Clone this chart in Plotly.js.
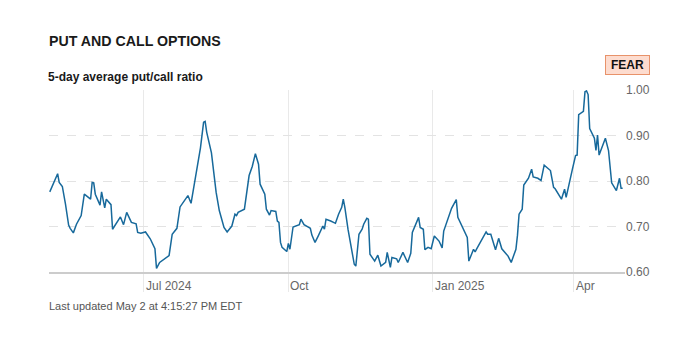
<!DOCTYPE html>
<html>
<head>
<meta charset="utf-8">
<script src="https://cdn.plot.ly/plotly-3.0.1.min.js"></script>
<style>
  html, body { margin: 0; padding: 0; background: #ffffff; }
  #chart { width: 685px; height: 344px; }
</style>
</head>
<body>
<div id="chart"></div>
<script>
// 5-day average put/call ratio
var dates = [
  "2024-05-02","2024-05-07","2024-05-08","2024-05-10","2024-05-12","2024-05-14","2024-05-15","2024-05-17",
  "2024-05-19","2024-05-22","2024-05-24","2024-05-28","2024-05-29","2024-05-30","2024-05-31","2024-06-03",
  "2024-06-04","2024-06-06","2024-06-07","2024-06-10","2024-06-11","2024-06-13","2024-06-16","2024-06-18",
  "2024-06-20","2024-06-23","2024-06-26","2024-06-27","2024-06-29","2024-07-02","2024-07-05","2024-07-08",
  "2024-07-09","2024-07-11","2024-07-14","2024-07-17","2024-07-19","2024-07-22","2024-07-24","2024-07-27",
  "2024-07-29","2024-07-31","2024-08-03","2024-08-06","2024-08-08","2024-08-09","2024-08-10","2024-08-13",
  "2024-08-16","2024-08-18","2024-08-21","2024-08-23","2024-08-26","2024-08-28","2024-08-29","2024-08-30",
  "2024-09-03","2024-09-06","2024-09-08","2024-09-10","2024-09-12","2024-09-13","2024-09-16","2024-09-17",
  "2024-09-19","2024-09-20","2024-09-23","2024-09-24","2024-09-25","2024-09-26","2024-09-27","2024-09-30",
  "2024-10-01","2024-10-02","2024-10-04","2024-10-06","2024-10-08","2024-10-09","2024-10-11","2024-10-14",
  "2024-10-15","2024-10-16","2024-10-18","2024-10-20","2024-10-22","2024-10-23","2024-10-24","2024-10-25",
  "2024-10-28","2024-10-31","2024-11-02","2024-11-04","2024-11-05","2024-11-06","2024-11-08","2024-11-10",
  "2024-11-12","2024-11-13","2024-11-15","2024-11-17","2024-11-18","2024-11-20","2024-11-21","2024-11-22",
  "2024-11-25","2024-11-27","2024-11-29","2024-12-02","2024-12-03","2024-12-05","2024-12-06","2024-12-09",
  "2024-12-10","2024-12-13","2024-12-16","2024-12-18","2024-12-19","2024-12-23","2024-12-24","2024-12-26",
  "2024-12-27","2024-12-29","2024-12-31","2025-01-02","2025-01-05","2025-01-07","2025-01-08","2025-01-13",
  "2025-01-16","2025-01-17","2025-01-23","2025-01-24","2025-01-27","2025-01-28","2025-01-29","2025-02-04",
  "2025-02-05","2025-02-07","2025-02-10","2025-02-12","2025-02-14","2025-02-18","2025-02-20","2025-02-23",
  "2025-02-24","2025-02-25","2025-02-27","2025-02-28","2025-03-02","2025-03-03","2025-03-05","2025-03-06",
  "2025-03-09","2025-03-11","2025-03-13","2025-03-17","2025-03-19","2025-03-20","2025-03-24","2025-03-26",
  "2025-03-27","2025-03-29","2025-03-31","2025-04-02","2025-04-03","2025-04-04","2025-04-07","2025-04-08",
  "2025-04-09","2025-04-10","2025-04-11","2025-04-14","2025-04-15","2025-04-16","2025-04-17","2025-04-21",
  "2025-04-23","2025-04-25","2025-04-28","2025-04-30","2025-05-01","2025-05-02"
];
var ratio = [
  0.776,0.816,0.797,0.788,0.749,0.703,0.696,0.686,
  0.705,0.724,0.771,0.760,0.797,0.796,0.771,0.747,
  0.776,0.741,0.760,0.748,0.694,0.705,0.721,0.704,
  0.731,0.709,0.706,0.687,0.685,0.688,0.673,0.651,
  0.608,0.621,0.628,0.636,0.683,0.696,0.743,0.757,
  0.768,0.751,0.816,0.873,0.929,0.931,0.907,0.862,
  0.775,0.735,0.698,0.688,0.701,0.727,0.724,0.731,
  0.738,0.812,0.832,0.860,0.837,0.793,0.771,0.738,
  0.725,0.735,0.733,0.712,0.709,0.665,0.654,0.645,
  0.663,0.650,0.699,0.701,0.704,0.716,0.704,0.698,
  0.696,0.681,0.665,0.679,0.693,0.701,0.694,0.716,
  0.712,0.707,0.727,0.742,0.760,0.742,0.694,0.657,
  0.617,0.613,0.683,0.694,0.705,0.718,0.716,0.639,
  0.624,0.637,0.613,0.621,0.643,0.610,0.632,0.629,
  0.621,0.643,0.621,0.641,0.687,0.720,0.698,0.694,
  0.649,0.654,0.651,0.679,0.668,0.653,0.690,0.740,
  0.759,0.720,0.676,0.624,0.650,0.644,0.651,0.688,
  0.683,0.683,0.649,0.674,0.651,0.635,0.621,0.650,
  0.681,0.727,0.738,0.791,0.801,0.806,0.826,0.809,
  0.806,0.801,0.835,0.823,0.786,0.783,0.760,0.782,
  0.764,0.799,0.826,0.856,0.857,0.946,0.953,0.996,
  0.998,0.990,0.915,0.894,0.867,0.901,0.857,0.894,
  0.867,0.796,0.779,0.806,0.784,0.784
];
var yTicks = [0.6, 0.7, 0.8, 0.9, 1.0];
var xTicks = ["2024-07-01", "2024-10-01", "2025-01-01", "2025-04-01"];
var xTickLabels = ["Jul 2024", "Oct", "Jan 2025", "Apr"];
var chartTitle = "PUT AND CALL OPTIONS";
var chartSubtitle = "5-day average put/call ratio";
var sentiment = "FEAR";
var footer = "Last updated May 2 at 4:15:27 PM EDT";

var FONT = "Liberation Sans, Arial, Helvetica, sans-serif";

var trace = {
  type: "scatter",
  mode: "lines",
  x: dates,
  y: ratio,
  line: { color: "#17699b", width: 1.5 },
  hoverinfo: "x+y"
};

var annotations = [
  {
    xref: "paper", yref: "paper", x: -0.004, y: 1.269,
    xanchor: "left", yanchor: "middle", showarrow: false,
    text: "<b>" + chartTitle + "</b>",
    font: { family: FONT, size: 14.2, color: "#1a1a1a" }
  },
  {
    xref: "paper", yref: "paper", x: -0.005, y: 1.071,
    xanchor: "left", yanchor: "middle", showarrow: false,
    text: "<b>" + chartSubtitle + "</b>",
    font: { family: FONT, size: 12, color: "#1a1a1a" }
  },
  {
    xref: "paper", yref: "paper", x: 1.0043, y: 1.137,
    xanchor: "center", yanchor: "middle", showarrow: false,
    text: "<b>" + sentiment + "</b>",
    font: { family: FONT, size: 12, color: "#111111" },
    bgcolor: "#fddccf", bordercolor: "#e8926a", borderwidth: 1,
    borderpad: 0, width: 43, height: 18
  },
  {
    xref: "paper", yref: "paper", x: -0.003, y: -0.187,
    xanchor: "left", yanchor: "middle", showarrow: false,
    text: footer,
    font: { family: FONT, size: 11, color: "#555555" }
  }
];
// x tick labels sit to the right of each month tick line
xTicks.forEach(function (d, i) {
  annotations.push({
    xref: "x", yref: "paper", x: d, y: -0.077,
    xanchor: "left", yanchor: "middle", showarrow: false,
    xshift: 0,
    text: xTickLabels[i],
    font: { family: FONT, size: 12, color: "#666666" }
  });
});

var layout = {
  width: 685,
  height: 344,
  margin: { l: 49, r: 60, t: 90, b: 72 },
  paper_bgcolor: "#ffffff",
  plot_bgcolor: "#ffffff",
  showlegend: false,
  font: { family: FONT, size: 12, color: "#666666" },
  xaxis: {
    type: "date",
    range: ["2024-05-01 12:00", "2025-05-03 12:00"],
    tickmode: "array",
    tickvals: xTicks,
    showticklabels: false,
    showgrid: true,
    gridcolor: "#e9e9e9",
    gridwidth: 1,
    ticks: "outside",
    ticklen: 18,
    tickcolor: "#e9e9e9",
    tickwidth: 1,
    showline: true,
    linecolor: "#cccccc",
    linewidth: 2,
    zeroline: false,
    fixedrange: true
  },
  yaxis: {
    side: "right",
    range: [0.6, 1.0],
    tickmode: "array",
    tickvals: yTicks,
    tickformat: ".2f",
    showgrid: true,
    gridcolor: "#e3e3e3",
    griddash: "dash",
    gridwidth: 1,
    ticks: "",
    showline: false,
    zeroline: false,
    tickfont: { family: FONT, size: 12, color: "#666666" },
    fixedrange: true
  },
  annotations: annotations
};

Plotly.newPlot("chart", [trace], layout, { displayModeBar: false, staticPlot: true });
</script>
</body>
</html>
